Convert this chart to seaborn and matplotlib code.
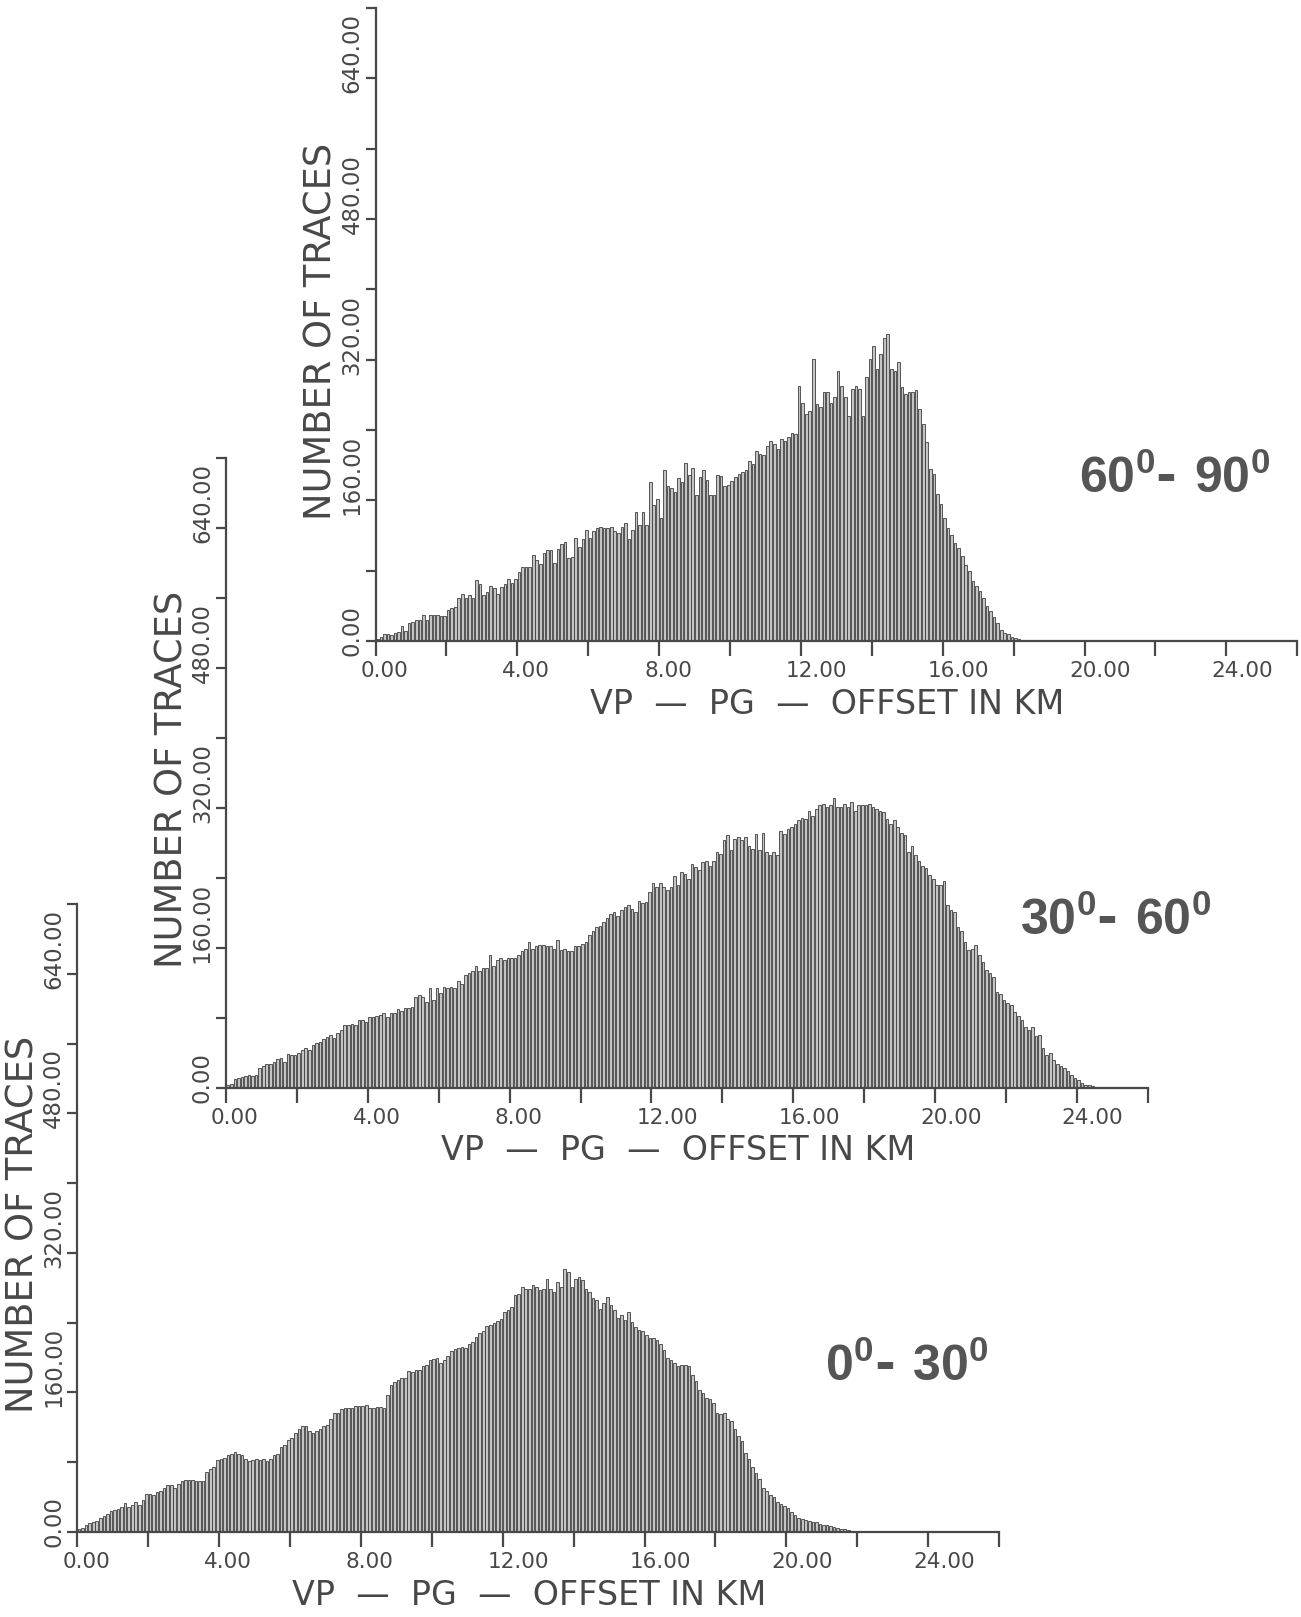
import numpy as np
import pandas as pd
import matplotlib
matplotlib.use("Agg")
import matplotlib.pyplot as plt
import seaborn as sns
from matplotlib.transforms import ScaledTranslation

# ---------------- data (counts per 0.1 km offset bin, starting at 0 km) ----------------
BIN_KM = 0.1

counts_60_90 = [
    2, 5, 8, 8, 7, 9, 10, 17, 11, 20, 22, 24, 24, 30, 24, 30, 30, 30, 29, 29,
    35, 38, 39, 49, 53, 49, 52, 49, 69, 65, 52, 56, 63, 60, 54, 61, 65, 70, 66, 71,
    78, 84, 84, 84, 98, 92, 88, 100, 104, 104, 89, 105, 110, 113, 94, 96, 117, 107, 116, 126,
    117, 125, 128, 130, 128, 128, 130, 125, 123, 130, 134, 116, 126, 147, 132, 147, 132, 181, 155, 161,
    140, 194, 176, 174, 170, 185, 181, 202, 189, 197, 166, 187, 195, 183, 166, 166, 189, 188, 176, 178,
    182, 186, 190, 192, 194, 205, 201, 216, 213, 211, 222, 228, 224, 218, 230, 228, 232, 237, 235, 290,
    271, 258, 262, 321, 270, 266, 283, 283, 271, 277, 307, 290, 277, 256, 287, 290, 287, 256, 300, 321,
    336, 309, 326, 345, 349, 309, 307, 317, 289, 281, 283, 283, 285, 264, 247, 226, 196, 190, 167, 156,
    140, 129, 121, 112, 106, 97, 87, 80, 68, 63, 57, 49, 40, 34, 27, 21, 13, 9, 8, 5,
    3, 2, 1, 1, 1,
]

counts_30_60 = [
    3, 5, 10, 12, 13, 14, 15, 14, 15, 23,
    25, 28, 28, 30, 33, 34, 30, 39, 38, 38,
    40, 43, 46, 44, 49, 51, 53, 56, 58, 61,
    57, 63, 66, 72, 72, 73, 72, 78, 78, 76,
    81, 81, 82, 83, 86, 81, 86, 86, 90, 88,
    92, 92, 93, 104, 106, 104, 98, 114, 101, 114,
    109, 115, 114, 115, 114, 122, 119, 129, 131, 134,
    139, 134, 137, 137, 152, 139, 146, 149, 146, 149,
    149, 149, 152, 157, 159, 167, 159, 162, 163, 163,
    162, 162, 159, 169, 158, 159, 157, 157, 162, 162,
    165, 167, 175, 180, 184, 185, 190, 194, 199, 201,
    197, 203, 207, 209, 205, 201, 214, 211, 213, 224,
    234, 230, 234, 230, 226, 230, 242, 232, 247, 245,
    239, 256, 253, 249, 258, 260, 254, 260, 270, 268,
    283, 289, 272, 285, 287, 283, 287, 277, 273, 290,
    272, 292, 270, 266, 270, 266, 294, 290, 296, 298,
    302, 306, 309, 308, 317, 311, 319, 323, 325, 321,
    323, 332, 321, 321, 325, 321, 327, 317, 323, 323,
    323, 325, 321, 319, 317, 315, 308, 302, 306, 298,
    292, 289, 270, 277, 266, 260, 254, 251, 243, 239,
    232, 232, 237, 209, 203, 201, 184, 180, 167, 158,
    159, 163, 152, 144, 135, 131, 127, 110, 108, 101,
    97, 95, 87, 82, 78, 70, 66, 70, 59, 61,
    46, 38, 40, 32, 27, 25, 23, 19, 15, 11,
    9, 6, 4, 3, 2,
]

counts_0_30 = [
    3, 5, 8, 10, 12, 13, 16, 18, 21, 24,
    25, 26, 29, 33, 29, 31, 34, 31, 37, 43,
    43, 42, 46, 47, 50, 54, 54, 51, 55, 58,
    60, 60, 60, 58, 58, 58, 69, 72, 75, 83,
    84, 85, 88, 90, 92, 90, 88, 84, 81, 83,
    84, 83, 84, 81, 84, 88, 90, 97, 100, 105,
    108, 113, 118, 122, 121, 116, 113, 116, 118, 121,
    123, 129, 136, 137, 141, 142, 142, 142, 144, 144,
    144, 146, 142, 142, 143, 143, 142, 157, 168, 172,
    174, 176, 177, 185, 184, 186, 186, 190, 191, 197,
    198, 199, 194, 197, 202, 207, 210, 211, 212, 211,
    215, 218, 223, 228, 231, 236, 237, 240, 242, 244,
    252, 254, 258, 272, 273, 281, 279, 279, 283, 281,
    277, 279, 290, 279, 275, 287, 281, 301, 298, 281,
    290, 292, 289, 279, 275, 268, 266, 256, 262, 270,
    260, 254, 245, 249, 243, 252, 241, 235, 232, 230,
    226, 222, 222, 220, 215, 209, 199, 197, 194, 190,
    192, 192, 190, 180, 173, 163, 159, 154, 152, 148,
    137, 135, 137, 129, 127, 118, 110, 104, 91, 84,
    74, 68, 61, 51, 47, 42, 40, 34, 32, 30,
    27, 23, 19, 16, 15, 14, 13, 12, 11, 9,
    8, 8, 7, 6, 5, 4, 3, 2, 1, 1,
]

panel_labels = [r"$\mathbf{60^{0}}$- $\mathbf{90^{0}}$",
                r"$\mathbf{30^{0}}$- $\mathbf{60^{0}}$",
                r"$\mathbf{0^{0}}$- $\mathbf{30^{0}}$"]
label_pos = [(19.85, 168), (22.4, 175), (21.1, 173)]

x_tick_values = np.arange(0, 27, 2)
x_tick_labels = ["%.2f" % v if v % 4 == 0 and v <= 24 else "" for v in x_tick_values]
y_tick_values = np.arange(0, 721, 80)
y_tick_labels = ["%.2f" % v if v % 160 == 0 and v <= 640 else "" for v in y_tick_values]

XLABEL = "VP  \u2014  PG  \u2014  OFFSET IN KM"
YLABEL = "NUMBER OF TRACES"

# ---------------- style ----------------
sns.set_style("ticks")
plt.rcParams["font.family"] = ["DejaVu Sans"]
plt.rcParams["mathtext.fontset"] = "custom"
plt.rcParams["mathtext.bf"] = "Liberation Sans:bold"
plt.rcParams["mathtext.rm"] = "Liberation Sans"

INK = "#484848"
W, H = 1301, 1617
fig = plt.figure(figsize=(W / 100, H / 100), dpi=100)
fig.patch.set_facecolor("white")

# (y-axis x px, x-axis y px, top y px)
geoms = [(375.5, 641, 8), (226, 1088, 458), (77.3, 1532, 904)]
AX_W = 26 * 35.45

datasets = [counts_60_90, counts_30_60, counts_0_30]

for (x0, y0, yt), counts, lab, (lx, ly) in zip(geoms, datasets, panel_labels, label_pos):
    ax = fig.add_axes([x0 / W, 1 - y0 / H, AX_W / W, (y0 - yt) / H])
    ax.patch.set_alpha(0)
    n = len(counts)
    df = pd.DataFrame({"offset": (np.arange(n) + 0.5) * BIN_KM,
                       "count": np.asarray(counts, dtype=float)})
    sns.histplot(data=df, x="offset", weights="count", binwidth=BIN_KM,
                 binrange=(0, n * BIN_KM), ax=ax, shrink=0.74, color="#c4c4c4",
                 edgecolor="#3e3e3e", linewidth=0.6, alpha=1.0)
    ax.set_xlim(0, 26)
    ax.set_ylim(0, 720)
    for s in ["top", "right"]:
        ax.spines[s].set_visible(False)
    for s in ["left", "bottom"]:
        ax.spines[s].set_color(INK)
        ax.spines[s].set_linewidth(1.6)
    ax.set_xlabel("")
    ax.set_ylabel("")
    ax.set_xticks(x_tick_values)
    ax.set_xticklabels(x_tick_labels)
    ax.set_yticks(y_tick_values)
    ax.set_yticklabels(y_tick_labels)
    ax.tick_params(axis="x", direction="out", length=10.8, width=1.6, pad=3.4,
                   labelsize=15.5, colors=INK)
    ax.tick_params(axis="y", direction="out", length=7.2, width=1.6, pad=1.5,
                   labelsize=16.5, colors=INK)
    for t in ax.get_xticklabels():
        t.set_ha("left")
        t.set_transform(t.get_transform() + ScaledTranslation(-0.15, 0, fig.dpi_scale_trans))
    for t in ax.get_yticklabels():
        t.set_rotation(90)
        t.set_ha("right")
        t.set_va("bottom")
        t.set_transform(t.get_transform() + ScaledTranslation(0, -0.15, fig.dpi_scale_trans))
    ax.text(0.49, -63 / (y0 - yt), XLABEL, transform=ax.transAxes, ha="center",
            va="center", fontsize=24, color=INK)
    ax.text(-54 / AX_W, 0.489, YLABEL, transform=ax.transAxes, rotation=90,
            ha="center", va="center", fontsize=26.5, color=INK)
    ax.text(lx, ly, lab, ha="left", va="baseline", fontsize=36,
            color="#555555", fontweight="bold")

fig.savefig("out.png", dpi=100, facecolor="white")
